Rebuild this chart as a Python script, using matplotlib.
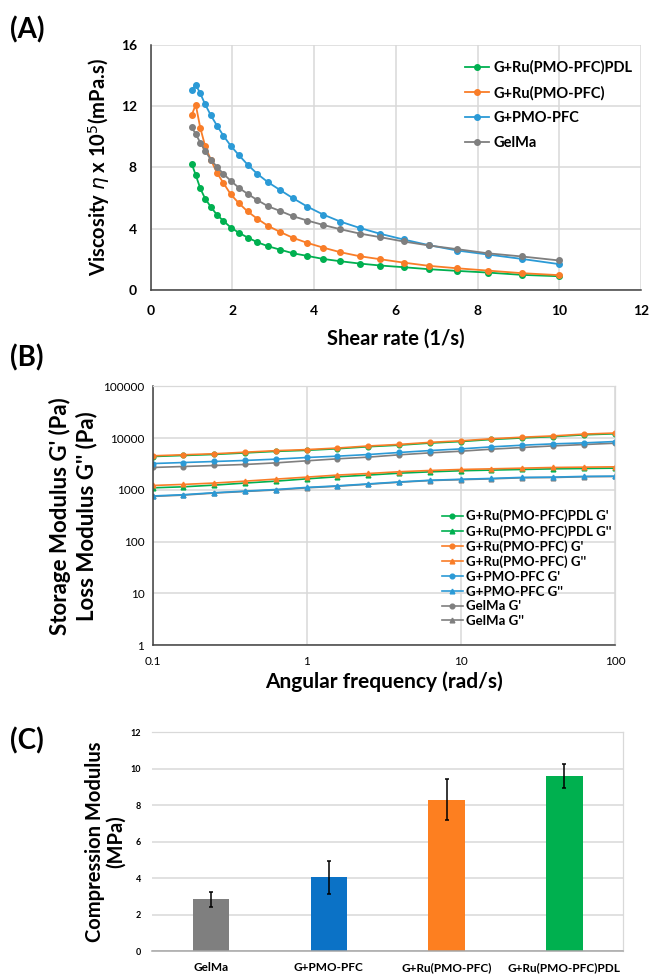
import matplotlib.pyplot as plt
from matplotlib.ticker import FixedLocator, FuncFormatter

plt.rcParams["font.family"] = ["Lato", "DejaVu Sans"]

GREEN = "#00b050"
ORANGE = "#f97d28"
BLUE = "#2b9ad6"
GRAY = "#7f7f7f"
BAR_BLUE = "#0b72c6"
GRID = "#d9d9d9"

# ---- (A) viscosity vs shear rate
shear_rate = [1.0, 1.10, 1.21, 1.33, 1.47, 1.62, 1.78, 1.96, 2.15, 2.37, 2.61, 2.87, 3.16,
              3.48, 3.83, 4.22, 4.64, 5.11, 5.62, 6.19, 6.81, 7.50, 8.25, 9.09, 10.0]
visc_pdl = [8.25, 7.5, 6.64, 5.96, 5.42, 4.9, 4.5, 4.07, 3.74, 3.42, 3.11, 2.85, 2.63,
            2.39, 2.22, 2.02, 1.87, 1.72, 1.59, 1.48, 1.35, 1.24, 1.13, 0.98, 0.89]
visc_ru = [11.4, 12.1, 10.6, 9.4, 8.5, 7.64, 6.97, 6.23, 5.68, 5.12, 4.64, 4.18, 3.79,
           3.4, 3.07, 2.76, 2.46, 2.2, 2.0, 1.78, 1.57, 1.41, 1.26, 1.09, 0.96]
visc_pmo = [13.04, 13.4, 12.84, 12.12, 11.4, 10.73, 10.06, 9.4, 8.82, 8.18, 7.57, 7.03, 6.53,
            5.99, 5.44, 4.92, 4.46, 4.05, 3.66, 3.29, 2.92, 2.57, 2.31, 2.02, 1.68]
visc_gelma = [10.62, 10.19, 9.62, 9.08, 8.51, 8.03, 7.57, 7.12, 6.68, 6.27, 5.86, 5.46, 5.16,
              4.81, 4.53, 4.24, 3.96, 3.68, 3.44, 3.16, 2.9, 2.66, 2.39, 2.18, 1.92]

# ---- (B) moduli vs angular frequency
ang_freq = [0.1, 0.158, 0.251, 0.398, 0.631, 1.0, 1.58, 2.51, 3.98, 6.31,
            10.0, 15.8, 25.1, 39.8, 63.1, 100.0]
pdl_g1 = [4430, 4640, 4860, 5200, 5570, 5840, 6260, 6860, 7350, 8060,
          8630, 9460, 10140, 10740, 11640, 12190]
pdl_g2 = [1100, 1150, 1240, 1360, 1480, 1640, 1800, 1940, 2110, 2240,
          2350, 2420, 2490, 2560, 2600, 2640]
ru_g1 = [4570, 4790, 5010, 5370, 5750, 6030, 6460, 7080, 7590, 8320,
         8910, 9770, 10470, 11090, 12020, 12590]
ru_g2 = [1220, 1280, 1360, 1480, 1620, 1770, 1940, 2080, 2250, 2380,
         2490, 2560, 2640, 2720, 2760, 2800]
pmo_g1 = [3240, 3390, 3550, 3720, 3940, 4240, 4500, 4840, 5300, 5780,
          6220, 6810, 7330, 7780, 8130, 8630]
pmo_g2 = [765, 810, 885, 950, 1020, 1120, 1200, 1310, 1430, 1540,
          1610, 1670, 1750, 1770, 1830, 1850]
gelma_g1 = [2720, 2840, 2970, 3110, 3340, 3660, 4000, 4310, 4780, 5210,
            5610, 6140, 6610, 7110, 7550, 8010]
gelma_g2 = [750, 795, 870, 935, 1000, 1100, 1180, 1290, 1410, 1520,
            1580, 1640, 1720, 1740, 1800, 1820]

# ---- (C) compression modulus
groups = ["GelMa", "G+PMO-PFC", "G+Ru(PMO-PFC)", "G+Ru(PMO-PFC)PDL"]
comp_mod = [2.83, 4.03, 8.3, 9.57]
comp_err = [0.42, 0.9, 1.1, 0.65]
bar_colors = [GRAY, BAR_BLUE, "#fd7f20", "#00b04f"]

fig = plt.figure(figsize=(6.5, 9.76), dpi=100)


def style_spines(ax, light_box=False):
    for side in ("left", "bottom"):
        ax.spines[side].set_color("#404040")
        ax.spines[side].set_linewidth(1.1)
    for side in ("top", "right"):
        if light_box:
            ax.spines[side].set_color(GRID)
            ax.spines[side].set_linewidth(0.9)
        else:
            ax.spines[side].set_visible(False)
    ax.tick_params(length=0)
    ax.set_axisbelow(True)


# (A)
axA = fig.add_axes([0.232, 0.703, 0.754, 0.251])
for y, c, lab in [(visc_pdl, GREEN, "G+Ru(PMO-PFC)PDL"), (visc_ru, ORANGE, "G+Ru(PMO-PFC)"),
                  (visc_pmo, BLUE, "G+PMO-PFC"), (visc_gelma, GRAY, "GelMa")]:
    axA.plot(shear_rate, y, color=c, marker="o", markersize=4, lw=1.3, label=lab)
axA.set_xlim(0, 12)
axA.set_ylim(0, 16)
axA.set_xticks(range(0, 13, 2))
axA.set_yticks(range(0, 17, 4))
axA.grid(True, color=GRID, lw=1.1)
style_spines(axA)
for t in axA.get_xticklabels() + axA.get_yticklabels():
    t.set_fontweight("bold")
    t.set_fontsize(10)
axA.tick_params(axis="x", pad=11)
axA.tick_params(axis="y", pad=10)
axA.set_xlabel("Shear rate (1/s)", fontsize=14.5, fontweight="bold", labelpad=8)
axA.set_ylabel("Viscosity $\\eta$ x 10$^5$(mPa.s)", fontsize=14.5, fontweight="bold", labelpad=6)
axA.legend(loc="upper left", bbox_to_anchor=(0.615, 0.99), frameon=False,
           handlelength=1.6, handletextpad=0.3, labelspacing=0.75,
           prop={"weight": "bold", "size": 10.5})
fig.text(0.015, 0.969, "(A)", fontsize=20, fontweight="bold", va="center")

# (B)
axB = fig.add_axes([0.235, 0.339, 0.711, 0.265])
seriesB = [(pdl_g1, GREEN, "o", "G+Ru(PMO-PFC)PDL G'"), (pdl_g2, GREEN, "^", "G+Ru(PMO-PFC)PDL G''"),
           (ru_g1, ORANGE, "o", "G+Ru(PMO-PFC) G'"), (ru_g2, ORANGE, "^", "G+Ru(PMO-PFC) G''"),
           (pmo_g1, BLUE, "o", "G+PMO-PFC G'"), (pmo_g2, BLUE, "^", "G+PMO-PFC G''"),
           (gelma_g1, GRAY, "o", "GelMa G'"), (gelma_g2, GRAY, "^", "GelMa G''")]
order = [6, 7, 4, 5, 0, 1, 2, 3]
for i in order:
    y, c, m, lab = seriesB[i]
    axB.plot(ang_freq, y, color=c, marker=m, markersize=3.4, lw=1.2, label=lab)
axB.set_xscale("log")
axB.set_yscale("log")
axB.set_xlim(0.1, 100)
axB.set_ylim(1, 100000)
axB.xaxis.set_major_locator(FixedLocator([0.1, 1, 10, 100]))
axB.yaxis.set_major_locator(FixedLocator([1, 10, 100, 1000, 10000, 100000]))
axB.xaxis.set_major_formatter(FuncFormatter(lambda v, p: f"{v:g}"))
axB.yaxis.set_major_formatter(FuncFormatter(lambda v, p: f"{v:.0f}"))
axB.minorticks_off()
axB.grid(True, color=GRID, lw=1.1)
style_spines(axB, light_box=True)
for t in axB.get_xticklabels() + axB.get_yticklabels():
    t.set_fontsize(8.5)
axB.tick_params(axis="y", pad=6)
axB.tick_params(axis="x", pad=8)
axB.set_xlabel("Angular frequency (rad/s)", fontsize=15, fontweight="bold", labelpad=3)
axB.set_ylabel("Storage Modulus G' (Pa)\nLoss Modulus G'' (Pa)", fontsize=16,
               fontweight="bold", labelpad=4, linespacing=1.3)
handles, labels = axB.get_legend_handles_labels()
hmap = dict(zip(labels, handles))
axB.legend([hmap[s[3]] for s in seriesB], [s[3] for s in seriesB],
           loc="lower left", bbox_to_anchor=(0.6, 0.025), frameon=False,
           handlelength=1.6, handletextpad=0.25, labelspacing=0.2,
           prop={"weight": "bold", "size": 9.5})
fig.text(0.015, 0.633, "(B)", fontsize=20, fontweight="bold", va="center")

# (C)
axC = fig.add_axes([0.234, 0.0256, 0.725, 0.2244])
xpos = range(len(groups))
axC.bar(xpos, comp_mod, width=0.31, color=bar_colors, yerr=comp_err,
        error_kw={"ecolor": "black", "elinewidth": 1.1, "capsize": 1.5, "capthick": 1.1})
axC.set_xlim(-0.5, 3.5)
axC.set_ylim(0, 12)
axC.set_yticks(range(0, 13, 2))
axC.set_xticks(list(xpos))
axC.set_xticklabels(groups, fontsize=8.5, fontweight="bold")
axC.yaxis.grid(True, color=GRID, lw=1.1)
style_spines(axC, light_box=True)
axC.spines["left"].set_visible(False)
axC.spines["bottom"].set_color("#a6a6a6")
for t in axC.get_yticklabels():
    t.set_fontsize(6.5)
    t.set_fontweight("bold")
axC.tick_params(axis="y", pad=8)
axC.tick_params(axis="x", pad=8)
axC.set_ylabel("Compression Modulus\n(MPa)", fontsize=14.5, fontweight="bold",
               labelpad=3, linespacing=1.1)
fig.text(0.015, 0.241, "(C)", fontsize=20, fontweight="bold", va="center")

fig.savefig("out.png", dpi=100)
